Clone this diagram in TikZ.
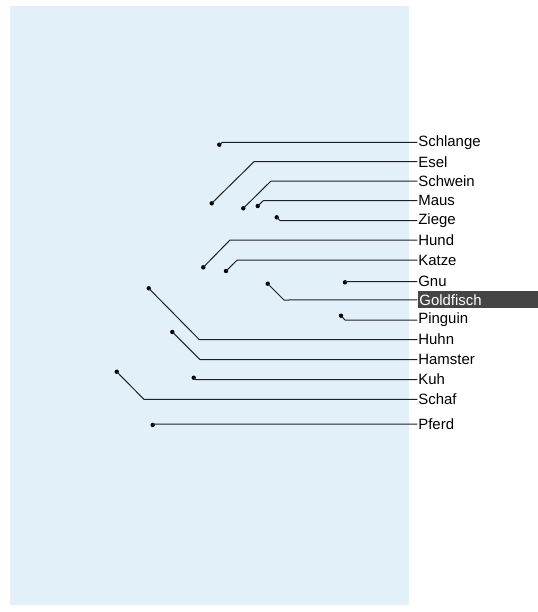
\documentclass[tikz,border=0pt]{standalone}
\usepackage{fontspec}
\setmainfont{Liberation Sans}
\definecolor{bgblue}{HTML}{E2F0FA}
\definecolor{hlgray}{HTML}{454545}
\definecolor{linegray}{HTML}{202020}
\begin{document}
\begin{tikzpicture}[x=0.75pt,y=-0.75pt,
  lbl/.style={anchor=west,inner xsep=0.6pt,inner ysep=1pt,font=\fontsize{11.2pt}{13pt}\selectfont},
  hl/.style={lbl,fill=hlgray,text=white,minimum width=90.75pt,text width=88pt,align=left,minimum height=12.9pt},
  pt/.style={circle,fill=black,inner sep=0pt,minimum size=3.3pt},
  conn/.style={draw=linegray,line width=0.75pt}]
\useasboundingbox (0,0) rectangle (538,612);
\fill[bgblue] (10,6) rectangle (409.3,605);
\foreach \n/\dx/\dy/\ex/\y in {
  Schlange/219.3/144.7/222.3/142.3,
  Esel/211.7/203.3/254/161.7,
  Schwein/243.3/208.3/271/181,
  Maus/257.7/206/263.3/200.7,
  Ziege/276.7/217.3/280/220.5,
  Hund/203.3/267.3/230/240,
  Katze/226/271/237.3/260,
  Gnu/345/282.3/345.6/281.6,
  Pinguin/341/315.7/345/320,
  Huhn/148.7/288.3/199.3/339.6,
  Hamster/172.3/332/200/359.6,
  Kuh/193.7/377.7/195.5/379.5,
  Schaf/116.7/371.7/144/399.4,
  Pferd/152.7/425/153.7/424}{
  \node[pt] (d\n) at (\dx,\dy) {};
  \coordinate (e\n) at (\ex,\y);
  \node[lbl] (\n) at (417.3,\y) {\n};
  \draw[conn] (d\n.center) -- (e\n) -- (\n.west);
}
\node[pt] (dGoldfisch) at (267.7,283.7) {};
\coordinate (eGoldfisch) at (284,300);
\node[hl] (Goldfisch) at (417.3,299.8) {Goldfisch};
\draw[conn] (dGoldfisch.center) -- (eGoldfisch) -- (Goldfisch.west);
\end{tikzpicture}
\end{document}
